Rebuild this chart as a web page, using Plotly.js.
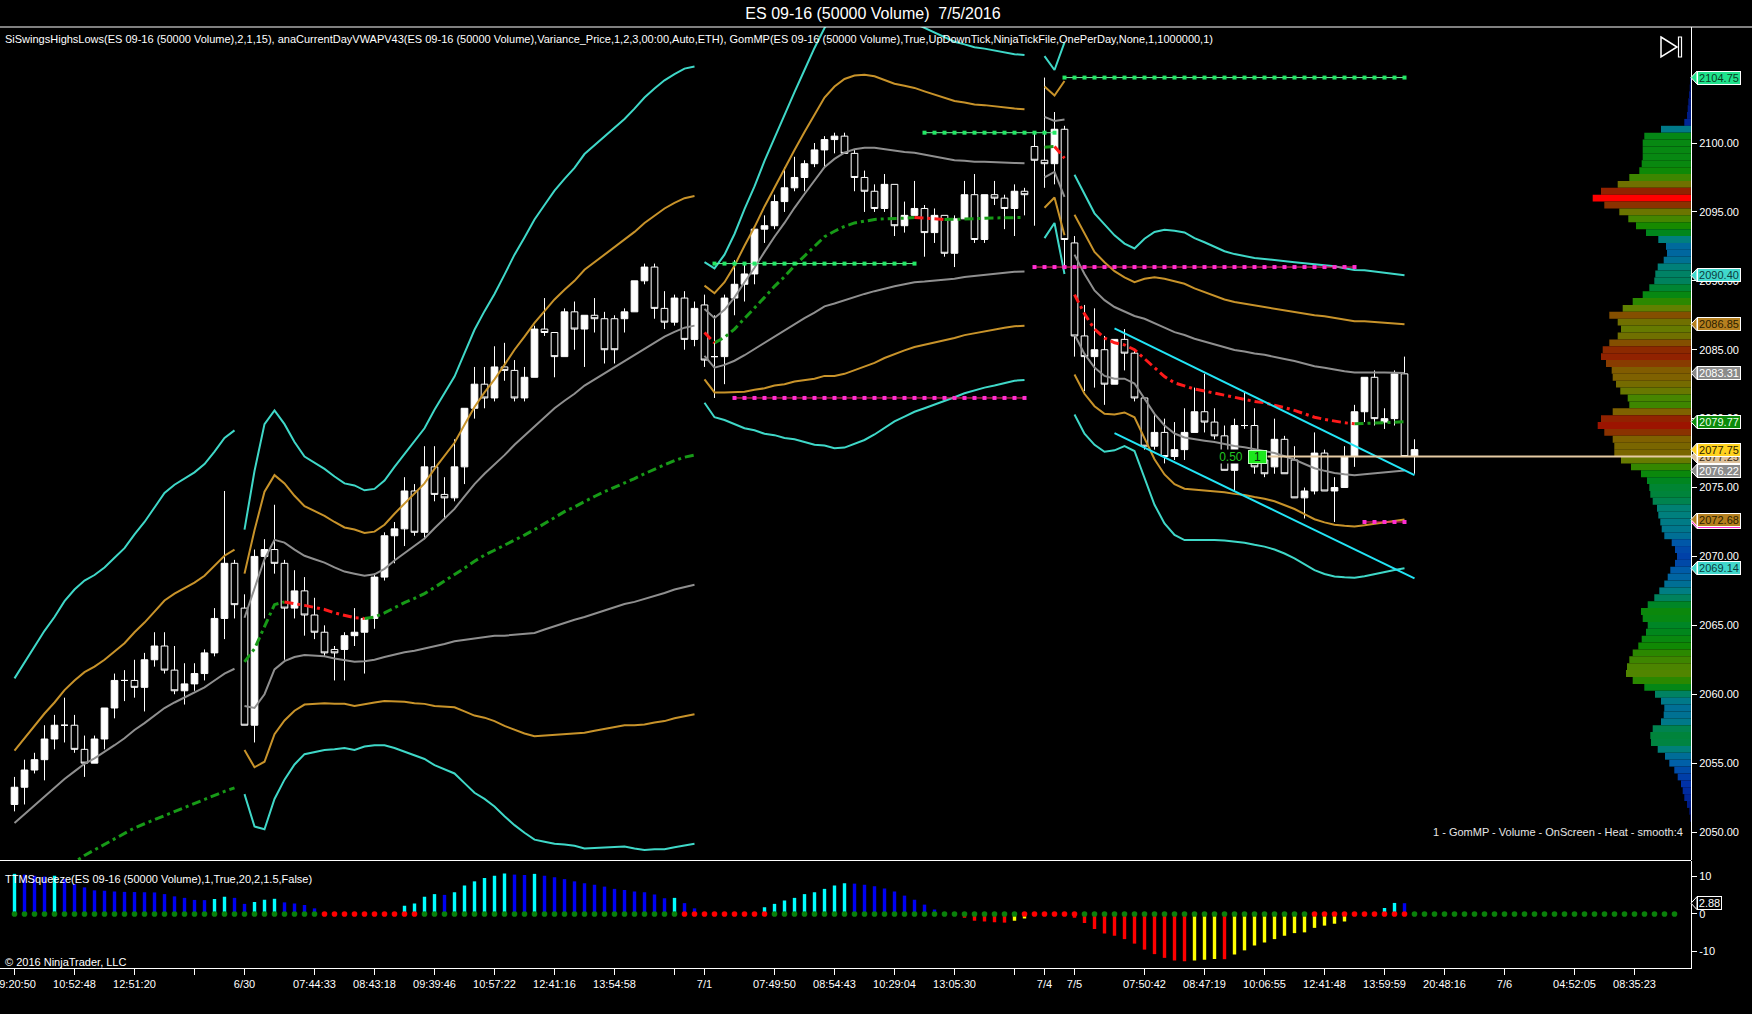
<!DOCTYPE html>
<html><head><meta charset="utf-8">
<script src="https://cdn.plot.ly/plotly-3.0.1.min.js"></script>
<style>html,body{margin:0;padding:0;background:#000;overflow:hidden}</style>
</head><body><div id="chart" style="width:1752px;height:1014px"></div>
<script>
// ---------------- DATA ----------------
const barOpen = [
2052.0,2053.25,2054.5,2055.25,2056.75,2057.75,2057.75,2056.0,2055.0,2056.75,
2059.0,2061.0,2061.0,2060.5,2062.5,2063.5,2061.75,2060.25,2060.75,2061.5,
2063.0,2065.5,2069.5,2066.25,2057.75,2070.0,2070.5,2069.5,2066.25,2067.5,
2065.75,2064.5,2063.25,2063.25,2064.25,2064.5,2065.5,2068.5,2071.5,2072.0,
2074.75,2071.75,2076.5,2074.5,2074.25,2076.5,2080.75,2082.5,2081.5,2083.75,
2083.5,2081.5,2083.0,2086.5,2086.25,2084.5,2087.75,2086.5,2087.5,2087.25,
2087.25,2087.25,2087.75,2090.0,2091.0,2088.0,2087.0,2088.75,2085.75,2088.25,
2084.5,2084.5,2088.75,2089.75,2090.5,2093.75,2094.0,2095.75,2096.75,2097.5,
2098.5,2099.5,2100.25,2100.5,2099.25,2097.5,2096.5,2095.25,2097.0,2094.0,
2094.75,2095.25,2093.5,2094.75,2092.0,2094.5,2096.25,2093.0,2096.25,2096.0,
2095.25,2096.5,2099.75,2098.75,2098.5,2101.0,2092.75,2086.0,2084.5,2085.0,
2082.5,2085.75,2084.75,2081.5,2078.0,2079.0,2077.25,2077.75,2079.0,2080.5,
2079.75,2078.75,2076.25,2079.5,2079.5,2077.0,2076.5,2078.5,2077.0,2074.25,
2074.75,2077.5,2074.75,2075.0,2077.25,2080.5,2083.0,2079.75,2080.0,2083.25,
2077.25];
const barHigh = [
2054.0,2055.25,2055.75,2057.75,2058.5,2059.75,2058.5,2057.0,2057.0,2059.0,
2061.5,2061.75,2062.5,2063.0,2064.5,2064.5,2063.5,2062.25,2062.25,2063.25,
2066.25,2074.75,2069.75,2067.25,2070.5,2071.25,2073.75,2069.75,2069.0,2068.5,
2067.0,2065.0,2063.5,2064.5,2066.25,2065.5,2068.75,2071.75,2072.5,2075.75,
2075.25,2078.0,2078.0,2075.75,2078.5,2080.75,2083.75,2083.75,2085.25,2085.5,
2084.25,2083.75,2086.75,2088.75,2086.25,2088.0,2088.5,2087.5,2088.75,2087.75,
2087.5,2088.0,2090.0,2091.25,2091.25,2089.25,2089.0,2089.25,2088.5,2089.0,
2087.5,2089.0,2091.5,2091.25,2093.75,2094.75,2096.25,2098.25,2099.0,2098.75,
2100.0,2100.5,2100.75,2100.75,2099.5,2098.0,2097.0,2097.75,2097.0,2095.75,
2097.25,2095.5,2095.25,2094.75,2094.75,2097.25,2097.75,2096.25,2097.25,2096.25,
2097.0,2096.75,2100.75,2104.75,2102.25,2101.25,2093.25,2088.25,2088.0,2086.0,
2085.75,2086.5,2085.0,2081.5,2080.25,2080.0,2079.75,2080.75,2082.25,2083.25,
2080.75,2079.5,2080.0,2082.0,2080.75,2077.5,2080.0,2078.75,2078.0,2075.0,
2079.0,2077.75,2075.75,2078.0,2081.0,2083.0,2083.5,2080.75,2083.5,2084.5,
2078.5];
const barLow = [
2051.5,2052.0,2054.25,2053.75,2056.0,2056.5,2055.75,2054.0,2055.0,2056.0,
2058.25,2059.5,2059.75,2058.75,2062.0,2061.5,2060.0,2059.25,2060.25,2061.0,
2062.75,2064.0,2065.5,2057.75,2056.5,2065.5,2068.75,2062.5,2065.5,2064.25,
2064.0,2062.75,2061.0,2061.0,2063.5,2061.5,2064.75,2068.25,2069.5,2070.75,
2071.5,2071.25,2074.0,2072.75,2074.0,2075.25,2080.0,2080.75,2081.25,2082.75,
2081.25,2081.25,2083.0,2086.0,2083.0,2084.5,2085.0,2083.75,2086.25,2084.0,
2084.0,2086.25,2087.75,2089.75,2087.25,2086.5,2086.75,2085.0,2085.25,2083.75,
2081.5,2082.5,2087.5,2088.5,2089.75,2092.75,2093.75,2095.0,2096.5,2096.5,
2098.25,2098.25,2099.25,2099.25,2096.5,2095.0,2095.0,2095.0,2093.25,2093.5,
2094.75,2091.75,2092.75,2091.75,2091.0,2094.5,2092.75,2092.75,2095.5,2093.75,
2093.25,2094.75,2094.0,2096.75,2097.0,2091.0,2084.5,2082.0,2082.25,2081.0,
2082.5,2083.5,2081.25,2077.75,2077.75,2076.75,2077.0,2077.0,2079.0,2079.0,
2078.5,2076.25,2074.75,2079.25,2076.0,2075.75,2076.0,2076.0,2074.25,2072.75,
2074.5,2074.75,2072.5,2075.0,2076.5,2079.75,2079.5,2079.25,2079.5,2077.25,
2076.0];
const barClose = [
2053.25,2054.5,2055.25,2056.75,2057.75,2057.75,2056.0,2055.0,2056.75,2059.0,
2061.0,2061.0,2060.5,2062.5,2063.5,2061.75,2060.25,2060.75,2061.5,2063.0,
2065.5,2069.5,2066.5,2057.75,2070.0,2070.5,2069.5,2066.25,2067.5,2065.75,
2064.5,2063.0,2063.0,2064.25,2064.5,2065.5,2068.5,2071.5,2072.0,2074.75,
2071.75,2076.5,2074.5,2074.25,2076.5,2080.75,2082.5,2081.5,2083.75,2083.5,
2081.5,2083.0,2086.5,2086.25,2084.5,2087.75,2086.5,2087.5,2087.25,2085.0,
2085.0,2087.75,2090.0,2091.0,2088.0,2087.0,2088.75,2085.75,2088.0,2084.25,
2084.5,2088.75,2089.75,2090.5,2093.75,2094.0,2095.75,2096.75,2097.5,2098.5,
2099.5,2100.25,2100.5,2099.25,2097.5,2096.5,2095.25,2097.0,2094.0,2094.75,
2095.25,2093.5,2094.75,2092.0,2094.5,2096.25,2093.0,2096.25,2096.0,2095.25,
2096.5,2096.25,2098.75,2098.5,2101.0,2093.0,2086.0,2084.5,2085.0,2082.5,
2085.75,2084.75,2081.5,2078.0,2079.0,2077.25,2077.75,2079.0,2080.5,2079.75,
2078.75,2076.25,2079.5,2079.5,2076.5,2076.0,2078.5,2076.0,2074.25,2074.75,
2077.5,2074.75,2075.0,2077.25,2080.5,2083.0,2080.0,2080.0,2083.25,2077.25,
2077.75];

// anaCurrentDayVWAP: session VWAP and its standard deviation (null = not plotted)
const sessionStartBars = [0, 23, 69, 102, 106];
const vwapValues = [
2045.4,2045.8,2046.2,2046.6,2047.0,2047.4,2047.8,2048.3,2048.7,2049.1,
2049.5,2049.9,2050.3,2050.6,2050.9,2051.2,2051.5,2051.8,2052.1,2052.4,
2052.7,2052.95,2053.2,
2062.35,2063.3,2064.9,2066.5,2066.7,2066.6,2066.45,2066.3,2066.15,2065.9,
2065.7,2065.55,2065.5,2065.6,2065.9,2066.3,2066.65,2066.95,2067.3,2067.75,
2068.2,2068.65,2069.15,2069.65,2070.1,2070.45,2070.8,2071.2,2071.55,2071.95,
2072.4,2072.85,2073.25,2073.6,2074.0,2074.35,2074.7,2075.0,2075.35,2075.65,
2076.0,2076.35,2076.65,2076.95,2077.2,2077.35,
2086.25,2085.5,2085.9,2086.5,2087.25,2088.0,2088.8,2089.6,2090.3,2091.1,
2091.8,2092.5,2093.2,2093.6,2093.95,2094.2,2094.35,2094.45,2094.5,2094.5,
2094.55,2094.6,2094.55,2094.5,2094.45,2094.45,2094.5,2094.5,2094.55,2094.55,
2094.6,2094.6,2094.6,
null,2099.7,2099.75,2098.9,
2089.0,2087.6,2086.5,2085.85,2085.5,2085.35,2085.0,2084.35,2083.65,2083.05,
2082.6,2082.35,2082.15,2082.0,2081.85,2081.65,2081.5,2081.4,2081.25,2081.15,
2081.0,2080.8,2080.6,2080.35,2080.1,2079.95,2079.8,2079.7,2079.62,2079.66,
2079.7,2079.73,2079.75,2079.77,
null];
const vwapStdDev = [
5.25,5.5,5.75,6.0,6.2,6.45,6.6,6.65,6.65,6.7,
6.8,6.9,7.1,7.3,7.55,7.8,7.9,7.95,8.0,8.1,
8.3,8.55,8.65,
3.2,4.3,4.9,4.7,4.3,3.9,3.6,3.5,3.4,3.3,
3.2,3.2,3.1,3.1,3.2,3.4,3.6,3.8,4.0,4.3,
4.55,4.8,5.2,5.6,5.9,6.2,6.55,6.9,7.2,7.5,
7.7,7.9,8.05,8.2,8.4,8.5,8.6,8.7,8.8,8.95,
9.1,9.2,9.3,9.35,9.4,9.4,
1.7,1.8,2.0,2.3,2.65,2.95,3.3,3.6,3.9,4.2,
4.5,4.8,5.05,5.25,5.35,5.35,5.3,5.2,5.05,4.9,
4.8,4.7,4.6,4.5,4.4,4.3,4.22,4.15,4.1,4.05,
4.0,3.95,3.93,
null,2.2,1.85,2.8,
2.9,2.9,2.8,2.75,2.6,2.45,2.45,2.9,3.3,3.55,
3.68,3.72,3.65,3.6,3.55,3.5,3.48,3.47,3.47,3.48,
3.5,3.53,3.58,3.64,3.7,3.74,3.75,3.74,3.72,3.7,
3.66,3.62,3.58,3.543,
null];
const bandMultipliers = [1, 2, 3];

// SiSwingsHighsLows levels
const swingHighLevels = [2091.25, 2100.75, 2104.75];
const swingHighStart  = [70, 91, 105];
const swingHighEnd    = [90, 104, 139];
const swingLowLevels  = [2081.5, 2091.0, 2072.5];
const swingLowStart   = [72, 102, 135];
const swingLowEnd     = [101, 134, 139];

// hand-drawn channel (bar, price)
const channelBars  = [110, 140];
const channelUpper = [2086.55, 2075.9];
const channelLower = [2078.95, 2068.4];

// open position
const positionPrice = 2077.25;
const positionQty = '1';
const positionPnl = '0.50';

// GomMP volume profile
const profilePrices = [
2104.5,2104.0,2103.5,2103.0,2102.5,2102.0,2101.5,2101.0,2100.5,2100.0,
2099.5,2099.0,2098.5,2098.0,2097.5,2097.0,2096.5,2096.0,2095.5,2095.0,
2094.5,2094.0,2093.5,2093.0,2092.5,2092.0,2091.5,2091.0,2090.5,2090.0,
2089.5,2089.0,2088.5,2088.0,2087.5,2087.0,2086.5,2086.0,2085.5,2085.0,
2084.5,2084.0,2083.5,2083.0,2082.5,2082.0,2081.5,2081.0,2080.5,2080.0,
2079.5,2079.0,2078.5,2078.0,2077.5,2077.0,2076.5,2076.0,2075.5,2075.0,
2074.5,2074.0,2073.5,2073.0,2072.5,2072.0,2071.5,2071.0,2070.5,2070.0,
2069.5,2069.0,2068.5,2068.0,2067.5,2067.0,2066.5,2066.0,2065.5,2065.0,
2064.5,2064.0,2063.5,2063.0,2062.5,2062.0,2061.5,2061.0,2060.5,2060.0,
2059.5,2059.0,2058.5,2058.0,2057.5,2057.0,2056.5,2056.0,2055.5,2055.0,
2054.5,2054.0,2053.5,2053.0,2052.5,2052.0,2051.5,2051.0];
const profileVolume = [
1,1.3,2,2.7,3.3,4,6.7,30,46.7,48.3,
48.3,48.3,49.3,51.7,61.7,73.3,90,98.3,86.7,71.7,
62.7,55,45,32.7,25,24,27.3,33.3,35.7,36.7,
41.7,48.3,58.3,68.3,81.7,73.3,70,73.3,81.7,88.3,
90,85,79.3,78.3,75,70.7,63.3,61.7,78.3,90,
93.3,86.7,78.3,76.7,76.7,70,60,50,44,41.7,
40.7,38.3,34,32.7,30.7,29.3,26.7,19.3,16,14,
16,20.7,23.3,26.7,31.7,36.7,43.3,50,48.3,43.3,
45,49.3,52.7,58.3,61.7,64,65,58.3,46.7,36,
30,26.7,27.3,30,38.3,40.7,40,33.3,26,21.7,
16.7,13.3,10,8.3,6.7,4,1.7,0.7];

// TTM Squeeze
const squeezeMomentum = [
10.7,10.5,10.2,10.0,10.2,9.3,8.0,7.1,6.3,6.2,
6.0,5.9,5.85,5.8,5.75,5.3,4.7,4.3,3.75,3.7,
4.0,4.6,4.3,2.7,3.2,3.8,4.05,3.1,2.8,2.4,
1.5,0,0,0,0,0,0,0,0.4,2.2,
2.8,4.6,5.3,5.1,5.8,7.6,8.7,9.6,10.2,10.8,
10.5,10.4,10.7,10.2,9.8,9.3,8.7,8.2,7.8,7.3,
6.7,6.4,6.0,5.8,5.2,4.2,4.3,2.9,1.5,0,
0,0,0,0,0.4,1.8,2.7,3.6,4.3,5.3,
5.8,6.7,7.6,8.2,8.1,7.8,7.4,6.8,6.0,4.9,
3.8,2.5,1.2,0.4,-0.3,-1.0,-1.8,-2.0,-2.2,-2.3,
-1.8,-1.2,0,0,0,0,-1.0,-2.4,-4.0,-5.2,
-5.8,-6.7,-7.9,-9.5,-10.7,-11.7,-12.4,-12.6,-12.4,-12.2,
-12.0,-12.05,-10.8,-9.7,-8.4,-7.6,-6.7,-5.8,-5.1,-4.9,
-3.7,-3.1,-2.6,-2.0,0,0,0.5,1.6,2.95,2.88];
const squeezeDotCount = 167;
const squeezeOnRanges = [[31,40],[67,75],[101,106],[130,139]];

// axis labels
const xTickBars = [0,6,12,18,23,30,36,42,48,54,60,66,69,76,82,88,94,100,103,106,113,119,125,131,137,143,149,156,162];
const xTickLabels = ['09:20:50','10:52:48','12:51:20','','6/30','07:44:33','08:43:18','09:39:46','10:57:22','12:41:16','13:54:58','','7/1','07:49:50','08:54:43','10:29:04','13:05:30','','7/4','7/5','07:50:42','08:47:19','10:06:55','12:41:48','13:59:59','20:48:16','7/6','04:52:05','08:35:23'];
const priceTicks = [2050,2055,2060,2065,2070,2075,2080,2085,2090,2095,2100];
const oscTicks = [10,0,-10];
const priceTagValues = [2072.50,2104.75,2090.40,2086.85,2083.31,2079.77,2076.22,2077.25,2077.75,2072.68,2069.14];
const oscTagValue = 2.88;

const titleText = 'ES 09-16 (50000 Volume)\u00a0 7/5/2016';
const indicatorText = 'SiSwingsHighsLows(ES 09-16 (50000 Volume),2,1,15), anaCurrentDayVWAPV43(ES 09-16 (50000 Volume),Variance_Price,1,2,3,00:00,Auto,ETH), GomMP(ES 09-16 (50000 Volume),True,UpDownTick,NinjaTickFile,OnePerDay,None,1,1000000,1)';
const squeezeText = 'TTMSqueeze(ES 09-16 (50000 Volume),1,True,20,2,1.5,False)';
const copyrightText = '\u00a9 2016 NinjaTrader, LLC';
const profileText = '1 - GomMP - Volume - OnScreen - Heat - smooth:4';

// ---------------- BUILD ----------------
const W = 1752, H = 1014, PL = 0, PR = 1691, PT = 27, PB = 968;
const pxX = px => (px - PL) / (PR - PL);
const pxY = py => (PB - py) / (PB - PT);
const X_RANGE = [-1.45, 167.65];
const Y_RANGE = [2047.97, 2108.42];
const Y2_RANGE = [-14.4, 14.13];
const MAIN_DOMAIN = [pxY(860), 1];
const LOW_DOMAIN = [0, pxY(861)];
const FONT = 'Liberation Sans, Arial, sans-serif';
const FS = 11;

const N = barOpen.length;
const bars = barOpen.map((_, i) => i);

function sessionRanges() {
  const r = [];
  for (let k = 0; k < sessionStartBars.length; k++) {
    const a = sessionStartBars[k];
    const b = (k + 1 < sessionStartBars.length ? sessionStartBars[k + 1] : N) - 1;
    r.push([a, b]);
  }
  return r;
}
function bandSeries(mult) {
  const xs = [], ys = [];
  sessionRanges().forEach(([a, b]) => {
    for (let i = a; i <= b; i++) {
      const v = vwapValues[i];
      xs.push(i); ys.push(v == null ? null : v + mult * vwapStdDev[i]);
    }
    xs.push(b + 0.5); ys.push(null);
  });
  return {x: xs, y: ys};
}
function vwapRuns(rising) {
  const xs = [], ys = [];
  sessionRanges().forEach(([a, b]) => {
    let last = null;
    for (let i = a + 1; i <= b; i++) {
      const p = vwapValues[i - 1], v = vwapValues[i];
      if (p == null || v == null) { last = null; continue; }
      if ((v >= p) === rising) {
        if (last !== i - 1) { if (xs.length) { xs.push(i - 0.5); ys.push(null); } xs.push(i - 1); ys.push(p); }
        xs.push(i); ys.push(v); last = i;
      } else last = null;
    }
  });
  return {x: xs, y: ys};
}

const traces = [];
// candles
traces.push({type: 'candlestick', x: bars, open: barOpen, high: barHigh, low: barLow, close: barClose,
  xaxis: 'x', yaxis: 'y', whiskerwidth: 0, hoverinfo: 'skip',
  increasing: {line: {color: '#ffffff', width: 1}, fillcolor: '#ffffff'},
  decreasing: {line: {color: '#ffffff', width: 1}, fillcolor: '#000000'}});
// profile
traces.push({type: 'bar', orientation: 'h', y: profilePrices, x: profileVolume, width: 0.5,
  xaxis: 'x2', yaxis: 'y', hoverinfo: 'skip',
  marker: {color: profileVolume, cmin: 0, cmax: Math.max(...profileVolume), line: {width: 0},
    colorscale: [[0,'#001070'],[0.1,'#0030a8'],[0.22,'#0060a8'],[0.33,'#008080'],[0.45,'#00861e'],
      [0.55,'#128a00'],[0.68,'#5c8400'],[0.8,'#806000'],[0.9,'#8c2800'],[0.96,'#a01000'],[1,'#ff0000']]}});
// bands
const bandColors = {1: '#8f8f8f', 2: '#c8932a', 3: '#3fd8c8'};
bandMultipliers.forEach(m => {
  [m, -m].forEach(s => {
    const d = bandSeries(s);
    traces.push({type: 'scatter', mode: 'lines', x: d.x, y: d.y, xaxis: 'x', yaxis: 'y', hoverinfo: 'skip',
      connectgaps: false, line: {color: bandColors[m], width: 2}});
  });
});
// vwap
[[true, '#179a17'], [false, '#ff1a1a']].forEach(([rising, col]) => {
  const d = vwapRuns(rising);
  traces.push({type: 'scatter', mode: 'lines', x: d.x, y: d.y, xaxis: 'x', yaxis: 'y', hoverinfo: 'skip',
    connectgaps: false, line: {color: col, width: 3, dash: '9px,4px,3px,4px'}});
});
// swing lines
function swingTrace(level, a, b, lineCol, dotCol) {
  const xs = [], ys = [];
  for (let i = a; i <= b; i++) { xs.push(i); ys.push(level); }
  return {type: 'scatter', mode: 'lines+markers', x: xs, y: ys, xaxis: 'x', yaxis: 'y', hoverinfo: 'skip',
    line: {color: lineCol, width: 1}, marker: {symbol: 'square', size: 4, color: dotCol}};
}
swingHighLevels.forEach((lv, k) => traces.push(swingTrace(lv, swingHighStart[k], swingHighEnd[k], '#6cf59a', '#22e865')));
swingLowLevels.forEach((lv, k) => traces.push(swingTrace(lv, swingLowStart[k], swingLowEnd[k], '#ff2a6a', '#ff2ed2')));
// channel
[channelUpper, channelLower].forEach(c => traces.push({type: 'scatter', mode: 'lines', x: channelBars, y: c,
  xaxis: 'x', yaxis: 'y', hoverinfo: 'skip', line: {color: '#22e4f5', width: 2}}));
// squeeze histogram
const histColors = squeezeMomentum.map((v, i) => {
  const p = i > 0 ? squeezeMomentum[i - 1] : 0;
  if (v >= 0) return v > p ? '#00ffff' : '#0000f0';
  return v < p ? '#ff0000' : '#ffff00';
});
traces.push({type: 'bar', x: squeezeMomentum.map((_, i) => i), y: squeezeMomentum, width: 0.34,
  xaxis: 'x', yaxis: 'y2', hoverinfo: 'skip', marker: {color: histColors, line: {width: 0}}});
// squeeze dots
const dotX = [], dotY = [], dotC = [];
for (let i = 0; i < squeezeDotCount; i++) {
  const on = squeezeOnRanges.some(([a, b]) => i >= a && i <= b);
  dotX.push(i); dotY.push(0); dotC.push(on ? '#ff0000' : '#0a800a');
}
traces.push({type: 'scatter', mode: 'markers', x: dotX, y: dotY, xaxis: 'x', yaxis: 'y2', hoverinfo: 'skip',
  cliponaxis: false, marker: {size: 5.6, color: dotC, line: {width: 0}}});

// ---------------- LAYOUT ----------------
const shapes = [], annotations = [];
// borders
shapes.push({type: 'line', xref: 'paper', yref: 'paper', x0: pxX(0), x1: pxX(W), y0: pxY(27), y1: pxY(27), line: {color: '#ffffff', width: 1}, layer: 'above'});
shapes.push({type: 'line', xref: 'paper', yref: 'paper', x0: pxX(0), x1: pxX(PR), y0: pxY(860.5), y1: pxY(860.5), line: {color: '#ffffff', width: 1}, layer: 'above'});
// position line
shapes.push({type: 'line', xref: 'x', yref: 'y', x0: 125.3, x1: X_RANGE[1], y0: positionPrice, y1: positionPrice, line: {color: '#e6cba4', width: 2}, layer: 'above'});
// play icon
shapes.push({type: 'path', xref: 'paper', yref: 'paper', path: `M ${pxX(1661)} ${pxY(37)} L ${pxX(1677)} ${pxY(47)} L ${pxX(1661)} ${pxY(57)} Z`, line: {color: '#ffffff', width: 1.5}, fillcolor: 'rgba(0,0,0,0)'});
shapes.push({type: 'rect', xref: 'paper', yref: 'paper', x0: pxX(1678.5), x1: pxX(1681.5), y0: pxY(37), y1: pxY(57), line: {color: '#ffffff', width: 1.2}, fillcolor: 'rgba(0,0,0,0)'});

// price tags
const tagStyles = [
  {bg: '#ff2ed2', fg: '#ff2ed2'},
  {bg: '#1fe38c', fg: '#0b3d22'},
  {bg: '#40d8cc', fg: '#0c3c3c'},
  {bg: '#b5801f', fg: '#2b1d00'},
  {bg: '#8a8a8a', fg: '#ffffff'},
  {bg: '#0a8a0a', fg: '#e8ffe8'},
  {bg: '#8a8a8a', fg: '#ffffff'},
  {bg: '#dcc09a', fg: '#3a2a10'},
  {bg: '#ffd21f', fg: '#2a2000'},
  {bg: '#b5801f', fg: '#2b1d00'},
  {bg: '#40d8cc', fg: '#0c3c3c'}];
const pricePerPx = (Y_RANGE[1] - Y_RANGE[0]) / (860 - PT);
priceTagValues.forEach((v, k) => {
  const st = tagStyles[k], h = 6.5 * pricePerPx;
  shapes.push({type: 'path', xref: 'paper', yref: 'y', path: `M 1 ${v} L ${pxX(1697)} ${v + h} L ${pxX(1697)} ${v - h} Z`,
    fillcolor: st.bg, line: {color: '#ffffff', width: 1}, layer: 'above'});
  annotations.push({xref: 'paper', yref: 'y', x: 1, y: v, xanchor: 'left', yanchor: 'middle', xshift: 6,
    text: v.toFixed(2), showarrow: false, font: {family: FONT, size: FS, color: st.fg},
    bgcolor: st.bg, bordercolor: '#ffffff', borderwidth: 1, borderpad: 1, width: 40, height: 10});
});
{
  const h = 6.5 * (Y2_RANGE[1] - Y2_RANGE[0]) / (PB - 861);
  shapes.push({type: 'path', xref: 'paper', yref: 'y2', path: `M 1 ${oscTagValue} L ${pxX(1697)} ${oscTagValue + h} L ${pxX(1697)} ${oscTagValue - h} Z`,
    fillcolor: '#000000', line: {color: '#ffffff', width: 1}, layer: 'above'});
  annotations.push({xref: 'paper', yref: 'y2', x: 1, y: oscTagValue, xanchor: 'left', yanchor: 'middle', xshift: 6,
    text: oscTagValue.toFixed(2), showarrow: false, font: {family: FONT, size: FS, color: '#ffffff'},
    bgcolor: '#000000', bordercolor: '#ffffff', borderwidth: 1, borderpad: 1, width: 21, height: 10});
}
// position annotations
annotations.push({xref: 'x', yref: 'y', x: 121.6, y: positionPrice, text: positionPnl, showarrow: false,
  font: {family: FONT, size: 12, color: '#22c422'}, bgcolor: '#000000', width: 24, height: 13, borderpad: 0});
annotations.push({xref: 'x', yref: 'y', x: 124.3, y: positionPrice, text: positionQty, showarrow: false,
  font: {family: FONT, size: 12, color: '#0a2a0a'}, bgcolor: '#1ce81c', bordercolor: '#b8ffb8', borderwidth: 1, borderpad: 1, width: 15, height: 10});
// texts
annotations.push({xref: 'paper', yref: 'paper', x: pxX(3), y: pxY(39), xanchor: 'left', yanchor: 'middle', showarrow: false,
  text: indicatorText, font: {family: FONT, size: FS, color: '#ffffff'}});
annotations.push({xref: 'paper', yref: 'paper', x: pxX(3), y: pxY(879), xanchor: 'left', yanchor: 'middle', showarrow: false,
  text: squeezeText, font: {family: FONT, size: FS, color: '#ffffff'}});
annotations.push({xref: 'paper', yref: 'paper', x: pxX(3), y: pxY(962), xanchor: 'left', yanchor: 'middle', showarrow: false,
  text: copyrightText, font: {family: FONT, size: FS, color: '#ffffff'}});
annotations.push({xref: 'paper', yref: 'paper', x: pxX(1685), y: pxY(832), xanchor: 'right', yanchor: 'middle', showarrow: false,
  text: profileText, font: {family: FONT, size: FS, color: '#e6e6e6'}});

const layout = {
  width: W, height: H, paper_bgcolor: '#000000', plot_bgcolor: '#000000',
  margin: {l: PL, r: W - PR, t: PT, b: H - PB, pad: 0},
  showlegend: false, hovermode: false, dragmode: false,
  boxgap: 0.05, boxgroupgap: 0.3,
  font: {family: FONT, color: '#ffffff', size: FS},
  title: {text: titleText, x: 873 / W, xref: 'container', y: 1 - 13 / H, yref: 'container', xanchor: 'center', yanchor: 'middle',
    font: {family: FONT, size: 16, color: '#ffffff'}},
  xaxis: {range: X_RANGE, anchor: 'y2', showgrid: false, zeroline: false, showline: true, linecolor: '#ffffff', linewidth: 1,
    ticks: 'outside', ticklen: 6, tickcolor: '#ffffff', tickvals: xTickBars, ticktext: xTickLabels, ticklabeloverflow: 'allow',
    tickfont: {family: FONT, size: FS, color: '#ffffff'}, fixedrange: true, rangeslider: {visible: false}},
  xaxis2: {overlaying: 'x', anchor: 'y', range: [PR - PL, 0], visible: false, fixedrange: true},
  yaxis: {domain: MAIN_DOMAIN, range: Y_RANGE, side: 'right', showgrid: false, zeroline: false, showline: true,
    linecolor: '#ffffff', linewidth: 1, ticks: 'outside', ticklen: 5, tickcolor: '#ffffff', tickvals: priceTicks,
    ticktext: priceTicks.map(v => v.toFixed(2)), tickfont: {family: FONT, size: FS, color: '#ffffff'}, fixedrange: true},
  yaxis2: {domain: LOW_DOMAIN, range: Y2_RANGE, side: 'right', showgrid: false, zeroline: false, showline: true,
    linecolor: '#ffffff', linewidth: 1, ticks: 'outside', ticklen: 5, tickcolor: '#ffffff', tickvals: oscTicks,
    ticktext: oscTicks.map(String), tickfont: {family: FONT, size: FS, color: '#ffffff'}, fixedrange: true},
  shapes: shapes, annotations: annotations
};
Plotly.newPlot('chart', traces, layout, {displayModeBar: false, staticPlot: true});
</script></body></html>
